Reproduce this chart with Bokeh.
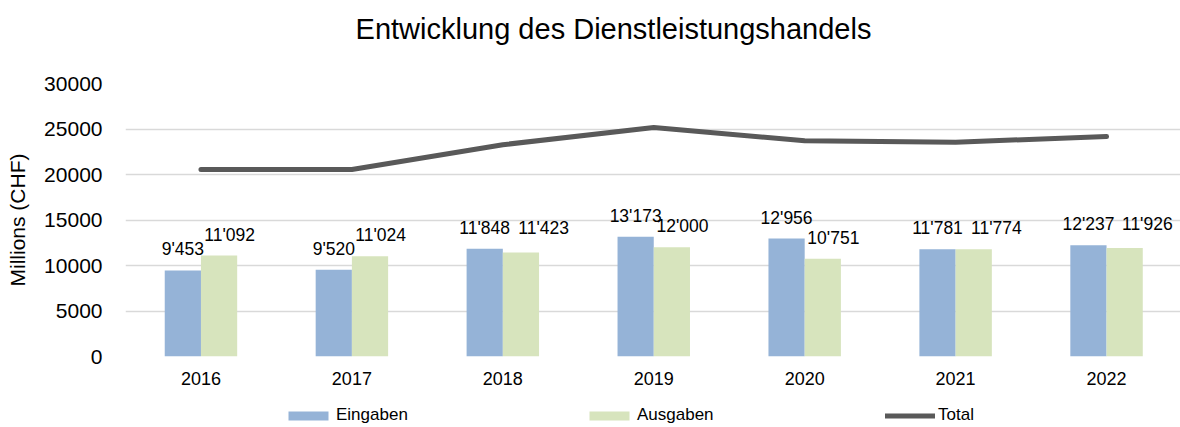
from bokeh.plotting import figure
from bokeh.layouts import column
from bokeh.models import (ColumnDataSource, Range1d, FixedTicker, Legend, LegendItem, Label)
from bokeh.embed import file_html
from bokeh.resources import INLINE
from bokeh.core.properties import value

years = ["2016", "2017", "2018", "2019", "2020", "2021", "2022"]
eingaben = [9453, 9520, 11848, 13173, 12956, 11781, 12237]
ausgaben = [11092, 11024, 11423, 12000, 10751, 11774, 11926]
total = [20545, 20544, 23271, 25173, 23707, 23555, 24163]
y_ticks = [0, 5000, 10000, 15000, 20000, 25000, 30000]
series_names = ["Eingaben", "Ausgaben", "Total"]
title_text = "Entwicklung des Dienstleistungshandels"

FONT = "Liberation Sans"
BLUE = "#95B3D7"
GREEN = "#D7E4BD"
GREY = "#595959"
W = 1180
LEFT = 125  # frame left edge (column layout aligns all frames to it)

def fmt(v):
    return f"{v:,}".replace(",", "'")

def strip(h):
    f = figure(width=W, height=h, output_backend="svg", toolbar_location=None,
               x_range=Range1d(LEFT, W), y_range=Range1d(0, h),
               x_axis_location=None, y_axis_location=None,
               min_border_left=LEFT, min_border_right=0, min_border_top=0, min_border_bottom=0)
    f.grid.visible = False
    f.outline_line_color = None
    f.border_fill_color = "white"
    return f

xs = list(range(len(years)))
bw = 0.24

# ---- title strip
TITLE_H = 50
tf = strip(TITLE_H)
tf.add_layout(Label(x=613, y=TITLE_H - 28, text=title_text, text_font=FONT,
                    text_font_size="29px", text_align="center", text_baseline="middle",
                    text_color="#000000"))

# ---- main chart
MAIN_H = 342
p = figure(width=W, height=MAIN_H, output_backend="svg", toolbar_location=None,
           x_range=Range1d(-0.5, 6.49), y_range=Range1d(0, 30000),
           min_border_left=LEFT, min_border_right=0, min_border_top=83 - TITLE_H,
           min_border_bottom=TITLE_H + MAIN_H - 356)
p.outline_line_color = None
p.background_fill_color = "white"
p.border_fill_color = "white"

src_e = ColumnDataSource(dict(x=[x - bw / 2 for x in xs], top=eingaben))
src_a = ColumnDataSource(dict(x=[x + bw / 2 for x in xs], top=ausgaben))
src_t = ColumnDataSource(dict(x=xs, y=total))

p.vbar(x="x", top="top", width=bw, source=src_e, fill_color=BLUE, line_color=None)
p.vbar(x="x", top="top", width=bw, source=src_a, fill_color=GREEN, line_color=None)
p.line(x="x", y="y", source=src_t, line_color=GREY, line_width=5, line_cap="round")

# data labels (green label nudged right, more when it would collide with the blue one)
px_per_unit = 273 / 30000
lab_e = ColumnDataSource(dict(x=[x - bw / 2 for x in xs], y=eingaben,
                              t=[fmt(v) for v in eingaben]))
ax, ay, at = [], [], []
for i, (e, a) in enumerate(zip(eingaben, ausgaben)):
    shift = 0.07
    yy = a
    if abs(e - a) * px_per_unit < 8:
        shift = 0.15
        yy = max(e, a)
    ax.append(i + bw / 2 + shift)
    ay.append(yy)
    at.append(fmt(a))
lab_a = ColumnDataSource(dict(x=ax, y=ay, t=at))
for s in (lab_e, lab_a):
    p.text(x="x", y="y", text="t", source=s, text_font=value(FONT), text_font_size="17.5px",
           text_align="center", text_baseline="middle", y_offset=-21, text_color="#000000")

p.xaxis.ticker = FixedTicker(ticks=xs)
p.xaxis.major_label_overrides = {i: y for i, y in enumerate(years)}
p.yaxis.ticker = FixedTicker(ticks=y_ticks)
for ax_ in (p.xaxis, p.yaxis):
    ax_.axis_line_color = None
    ax_.major_tick_line_color = None
    ax_.minor_tick_line_color = None
    ax_.major_label_text_font = FONT
    ax_.major_label_text_color = "#000000"
p.xaxis.major_label_text_font_size = "18px"
p.xaxis.major_label_standoff = 9
p.yaxis.major_label_text_font_size = "21px"
p.yaxis.major_label_standoff = 17
p.yaxis.axis_label = "Millions (CHF)"
p.yaxis.axis_label_text_font = FONT
p.yaxis.axis_label_text_font_size = "21px"
p.yaxis.axis_label_text_font_style = "normal"
p.yaxis.axis_label_text_color = "#000000"
p.yaxis.axis_label_standoff = 12

p.xgrid.grid_line_color = None
p.ygrid.grid_line_color = "#D9D9D9"
p.ygrid.grid_line_width = 1.5

# ---- legend strip
LEG_H = 427 - TITLE_H - MAIN_H
lg = strip(LEG_H)
proxy = ColumnDataSource(dict(x=[-100], y=[-100], top=[-100]))
g_e = lg.vbar(x="x", top="top", width=1, source=proxy, fill_color=BLUE, line_color=None)
g_a = lg.vbar(x="x", top="top", width=1, source=proxy, fill_color=GREEN, line_color=None)
g_t = lg.line(x="x", y="y", source=proxy, line_color=GREY, line_width=5, line_cap="round")

legend = Legend(items=[LegendItem(label=n, renderers=[r])
                       for n, r in zip(series_names, [g_e, g_a, g_t])],
                orientation="horizontal", location=(283 - LEFT, 2),
                glyph_width=50, glyph_height=11, label_standoff=3, spacing=164,
                label_width=84, label_height=18,
                padding=0, margin=0, border_line_color=None,
                background_fill_alpha=0,
                label_text_font=FONT, label_text_font_size="17px", label_text_color="#000000")
lg.add_layout(legend)

layout = column(tf, p, lg, spacing=0)
open("out.html", "w").write(file_html(layout, INLINE))
